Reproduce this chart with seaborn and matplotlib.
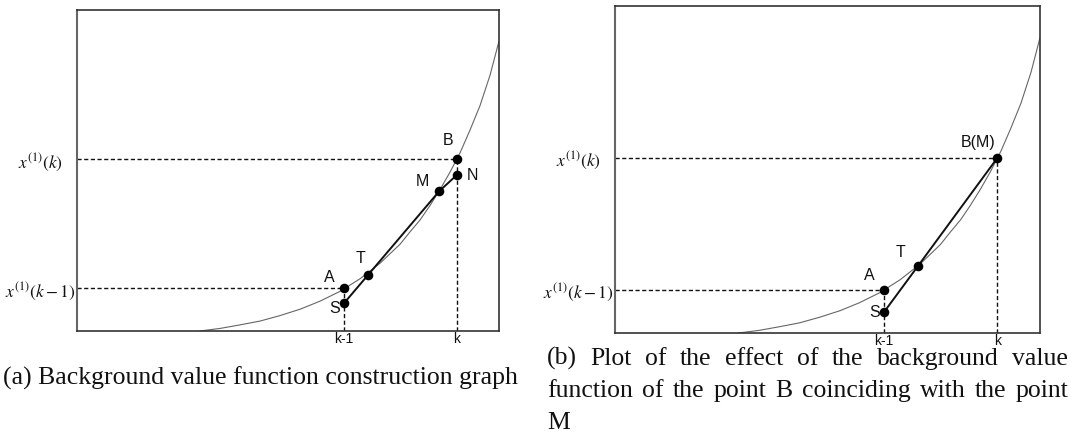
import matplotlib
matplotlib.use("Agg")
import matplotlib.pyplot as plt
import pandas as pd
import seaborn as sns

# Smooth growth curve x^(1)(t), sampled along its length
curve_x = [2.91, 3.39, 3.86, 4.34, 4.81, 5.29, 5.76, 6.24, 6.71, 7.18, 7.66,
           7.88, 8.13, 8.36, 8.60, 8.84, 9.08, 9.31, 9.55, 9.79, 10.0]
curve_y = [0.00, 0.08, 0.19, 0.31, 0.48, 0.68, 0.93, 1.24, 1.63, 2.11, 2.71,
           3.07, 3.46, 3.90, 4.40, 4.95, 5.56, 6.25, 7.02, 7.98, 9.03]

x_tick_labels = ["k-1", "k"]
y_tick_labels = [r"$x^{(1)}(k-1)$", r"$x^{(1)}(k)$"]

# Panel (a): background value function construction
a_names = ["A", "S", "T", "M", "B", "N"]
a_x = [6.33, 6.33, 6.90, 8.58, 9.00, 9.00]
a_y = [1.33, 0.87, 1.75, 4.35, 5.36, 4.86]
a_path = ["S", "T", "M", "N"]

# Panel (b): B coinciding with M
b_names = ["A", "S", "T", "B(M)"]
b_x = [6.33, 6.33, 7.13, 9.00]
b_y = [1.33, 0.64, 2.05, 5.36]
b_path = ["S", "T", "B(M)"]

sns.set_theme(style="white")
plt.rcParams["font.family"] = ["Liberation Sans", "DejaVu Sans"]
plt.rcParams["mathtext.fontset"] = "stix"

W, H = 1071, 433
fig = plt.figure(figsize=(W / 100, H / 100), dpi=100)


def px_axes(x0, y0, x1, y1):
    return fig.add_axes([x0 / W, 1 - y1 / H, (x1 - x0) / W, (y1 - y0) / H])


DASH = (0, (3, 1.8))


def draw_panel(ax, names, xs, ys, path, hi, label_offsets):
    curve = pd.DataFrame({"x": curve_x, "y": curve_y})
    sns.lineplot(data=curve, x="x", y="y", ax=ax, sort=False,
                 color="#666666", linewidth=0.8)

    pts = pd.DataFrame({"name": names, "x": xs, "y": ys}).set_index("name")

    # dashed projections onto both axes
    for nm in ("A", hi):
        px, py = pts.loc[nm, "x"], pts.loc[nm, "y"]
        ax.plot([0, px], [py, py], ls=DASH, color="#111111", lw=1.0)
        ax.plot([px, px], [0, py], ls=DASH, color="#111111", lw=1.0)

    seg = pts.loc[path].reset_index()
    sns.lineplot(data=seg, x="x", y="y", ax=ax, sort=False,
                 color="#111111", linewidth=1.4)

    sns.scatterplot(data=pts.reset_index(), x="x", y="y", ax=ax, s=48,
                    color="black", edgecolor="black", linewidth=0, zorder=5)

    for nm, (dx, dy) in label_offsets.items():
        ax.annotate(nm, (pts.loc[nm, "x"], pts.loc[nm, "y"]),
                    xytext=(dx, -dy), textcoords="offset pixels",
                    ha="center", va="center", fontsize=11.5, color="#111111")

    ax.set_xlim(0, 10)
    ax.set_ylim(0, 10)
    ax.set_xlabel("")
    ax.set_ylabel("")
    ax.set_xticks([pts.loc["A", "x"], pts.loc[hi, "x"]])
    ax.set_xticklabels(x_tick_labels, fontsize=10, color="#111111")
    ax.set_yticks([pts.loc["A", "y"], pts.loc[hi, "y"]])
    ax.set_yticklabels(y_tick_labels, fontsize=12.5, color="#111111")
    ax.tick_params(axis="x", length=0, pad=0.5)
    ax.tick_params(axis="y", length=0, pad=37 * 0.72)
    for t in ax.get_yticklabels():
        t.set_horizontalalignment("center")
    for side, sp in ax.spines.items():
        sp.set_visible(True)
        sp.set_color("#333333")
        sp.set_linewidth(1.2)
    ax.spines["left"].set_color("#666666")
    ax.spines["left"].set_linewidth(1.5)


ax_a = px_axes(77, 10, 499, 331)
draw_panel(ax_a, a_names, a_x, a_y, a_path, "B",
           {"B": (-9, -18), "N": (16, 1), "M": (-17, -10),
            "T": (-8, -16), "A": (-15, -11), "S": (-9, 5)})

ax_b = px_axes(615, 6, 1040, 333)
draw_panel(ax_b, b_names, b_x, b_y, b_path, "B(M)",
           {"B(M)": (-19, -15), "T": (-18, -13), "A": (-15, -14), "S": (-9, 0)})

serif = ["Liberation Serif", "DejaVu Serif"]
CAP = 18.5

fig.text(3 / W, 1 - 385 / H, "(a) Background value function construction graph",
         family=serif, fontsize=CAP, va="baseline", ha="left", color="#111111")

# justified caption for panel (b)
fig.canvas.draw()
renderer = fig.canvas.get_renderer()


def justified_line(text, x0, x1, base):
    words = text.split()
    items = [fig.text(0, 1 - base / H, w, family=serif, fontsize=CAP,
                      va="baseline", ha="left", color="#111111") for w in words]
    widths = [t.get_window_extent(renderer).width for t in items]
    gap = (x1 - x0 - sum(widths)) / (len(words) - 1)
    x = x0
    for t, w in zip(items, widths):
        t.set_x(x / W)
        x += w + gap


justified_line("(b) Plot of the effect of the background value", 547, 1068, 365)
justified_line("function of the point B coinciding with the point", 547, 1068, 397)
fig.text(547 / W, 1 - 429 / H, "M", family=serif, fontsize=CAP,
         va="baseline", ha="left", color="#111111")

fig.savefig("out.png", dpi=100)
